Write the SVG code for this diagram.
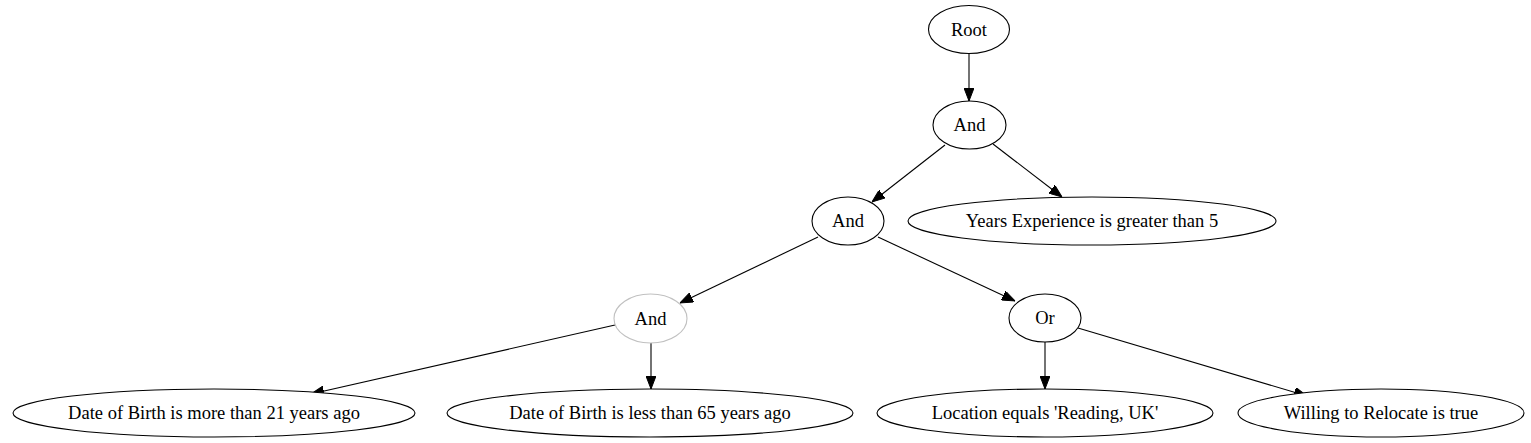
<svg xmlns="http://www.w3.org/2000/svg" width="1531" height="443" viewBox="0 0 1531 443">
<style>
.n ellipse{fill:#fff;stroke:#000;stroke-width:1.1}
.n.g ellipse{stroke:#c0c0c0}
.n text{font-family:"Liberation Serif","Times New Roman",serif;font-size:18.5px;text-anchor:middle;fill:#000}
.e line{stroke:#000;stroke-width:1.1;marker-end:url(#ah)}
</style>
<defs>
<marker id="ah" markerUnits="userSpaceOnUse" markerWidth="13" markerHeight="10" refX="13" refY="5" orient="auto" viewBox="0 0 13 10">
<path d="M0,0 L13,5 L0,10 z" fill="#000" stroke="#000" stroke-width="1"/>
</marker>
</defs>
<rect width="1531" height="443" fill="#fff"/>
<g id="edges" class="e">
<line x1="969" y1="53" x2="969" y2="101"/>
<line x1="945" y1="145" x2="872" y2="202"/>
<line x1="993" y1="144" x2="1062" y2="197"/>
<line x1="818" y1="237" x2="680" y2="303"/>
<line x1="878" y1="237" x2="1015" y2="301"/>
<line x1="615" y1="325" x2="311" y2="394"/>
<line x1="651" y1="342" x2="651" y2="389"/>
<line x1="1045" y1="342" x2="1045" y2="389"/>
<line x1="1078" y1="328" x2="1307" y2="396"/>
</g>
<g id="root" class="n"><ellipse cx="969" cy="29.5" rx="40.5" ry="24"/><text x="969" y="35.5">Root</text></g>
<g id="and1" class="n"><ellipse cx="969.5" cy="125" rx="36.5" ry="24"/><text x="969.5" y="131">And</text></g>
<g id="and2" class="n"><ellipse cx="848" cy="221" rx="36" ry="24"/><text x="848" y="227">And</text></g>
<g id="years" class="n"><ellipse cx="1092" cy="221" rx="184" ry="24"/><text x="1092" y="227">Years Experience is greater than 5</text></g>
<g id="and3" class="n g"><ellipse cx="650.5" cy="318.5" rx="36.5" ry="24.5"/><text x="650.5" y="324.5">And</text></g>
<g id="or" class="n"><ellipse cx="1045" cy="318" rx="36" ry="24"/><text x="1045" y="324">Or</text></g>
<g id="dob21" class="n"><ellipse cx="214" cy="413" rx="201" ry="24"/><text x="214" y="419">Date of Birth is more than 21 years ago</text></g>
<g id="dob65" class="n"><ellipse cx="650" cy="413" rx="203" ry="24"/><text x="650" y="419">Date of Birth is less than 65 years ago</text></g>
<g id="location" class="n"><ellipse cx="1045" cy="413" rx="168" ry="24"/><text x="1045" y="419">Location equals 'Reading, UK'</text></g>
<g id="relocate" class="n"><ellipse cx="1381" cy="413" rx="143" ry="24"/><text x="1381" y="419">Willing to Relocate is true</text></g>
</svg>
